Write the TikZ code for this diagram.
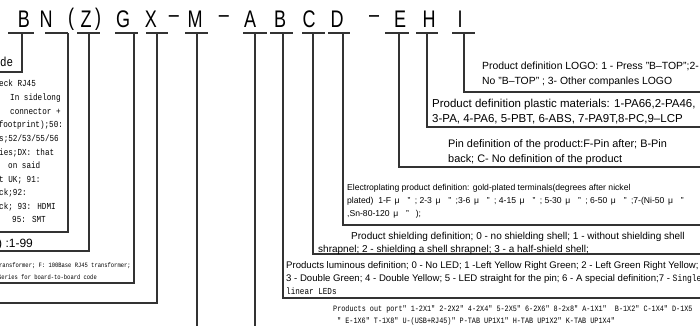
\documentclass[tikz,border=0pt]{standalone}
\usepackage{fontspec}
\setmainfont{Liberation Sans}
\newfontfamily\monoF[FakeStretch=0.83]{Liberation Mono}
\newfontfamily\narrowF[FakeStretch=0.75]{Liberation Sans}
\newcommand\mq{\makebox[1.4em]{μ}\makebox[1.35em]{"}}
\begin{document}
\begin{tikzpicture}[x=1pt,y=-1pt,
  ln/.style={draw=black!80, line width=1.2pt},
  code/.style={font=\narrowF\fontsize{24}{24}\selectfont, inner sep=0pt},
  txt/.style={inner sep=0pt, anchor=base west},
  szI/.style={txt, font=\fontsize{10.4}{15}\selectfont},
  szH/.style={txt, font=\fontsize{11.5}{15}\selectfont},
  szE/.style={txt, font=\fontsize{10.9}{15}\selectfont},
  szD/.style={txt, font=\fontsize{8.6}{13}\selectfont},
  szC/.style={txt, font=\fontsize{10}{13}\selectfont},
  szB/.style={txt, font=\fontsize{9.6}{13}\selectfont},
  port/.style={txt, font=\monoF\fontsize{8.2}{12}\selectfont},
  ser/.style={txt, font=\monoF\fontsize{9.2}{13}\selectfont},
  sers/.style={txt, font=\monoF\fontsize{6.6}{12}\selectfont},
]
\useasboundingbox (0,0) rectangle (700,325);
\clip (0,0) rectangle (700,325);
% code letters
\node[code] (k1) at (24,19) {B};
\node[code] (k2) at (46,19) {N};
\node[code] (k3a) at (71,19) {(};
\node[code] (k3) at (86,19) {Z};
\node[code] (k3b) at (98,19) {)};
\node[code] (k4) at (123,19) {G};
\node[code] (k5) at (151,19) {X};
\node[code] (k6) at (174,19) {–};
\node[code] (k7) at (195,19) {M};
\node[code] (k8) at (224,19) {–};
\node[code] (k9) at (250,19) {A};
\node[code] (k10) at (280,19) {B};
\node[code] (k11) at (309,19) {C};
\node[code] (k12) at (337,19) {D};
\node[code] (k13) at (374,19) {–};
\node[code] (k14) at (400,19) {E};
\node[code] (k15) at (429,19) {H};
\node[code] (k16) at (460,19) {I};
% bars
\draw[ln] (8,33) -- (34,33);
\draw[ln] (45,33) -- (68,33);
\draw[ln] (77,33) -- (100,33);
\draw[ln] (115,33) -- (138,33);
\draw[ln] (146,33) -- (168,33);
\draw[ln] (185,33) -- (208,33);
\draw[ln] (243,33) -- (267,33);
\draw[ln] (270,33) -- (293,33);
\draw[ln] (302,33) -- (325,33);
\draw[ln] (328,33) -- (350,33);
\draw[ln] (385,33) -- (409,33);
\draw[ln] (416,33) -- (438,33);
\draw[ln] (452,33) -- (475,33);
% stems
\coordinate (s1) at (22,33);  \coordinate (c1) at (0,72);
\coordinate (s2) at (68,33);  \coordinate (c2) at (0,232);
\coordinate (s3) at (89,33);  \coordinate (c3) at (0,251);
\coordinate (s4) at (134,33); \coordinate (c4) at (0,283);
\coordinate (s5) at (157,33); \coordinate (c5) at (0,303);
\coordinate (s6) at (197,33); \coordinate (c6) at (197,326);
\coordinate (s7) at (255,33); \coordinate (c7) at (255,326);
\coordinate (s8) at (283,33); \coordinate (c8) at (701,298);
\coordinate (s9) at (313,33); \coordinate (c9) at (701,254);
\coordinate (s10) at (343,33); \coordinate (c10) at (701,225);
\coordinate (s11) at (399,33); \coordinate (c11) at (701,167);
\coordinate (s12) at (427,33); \coordinate (c12) at (701,127);
\coordinate (s13) at (464,33); \coordinate (c13) at (701,92);
\foreach \i in {1,2,3,4,5,8,9,10,11,12,13} {\draw[ln] (s\i) |- (c\i);}
\draw[ln] (s6) -- (c6);
\draw[ln] (s7) -- (c7);
% right texts
\node[szI] (tI1) at (482,69) {Product definition LOGO: 1 - Press "B–TOP";2-};
\node[szI] (tI2) at (482,84) {No "B–TOP" ; 3- Other companles LOGO};
\node[szH] (tH1) at (432,107) {Product definition plastic materials: 1-PA66,2-PA46,};
\node[szH] (tH2) at (432,122) {3-PA, 4-PA6, 5-PBT, 6-ABS, 7-PA9T,8-PC,9–LCP};
\node[szE] (tE1) at (448,147) {Pin definition of the product:F-Pin after; B-Pin};
\node[szE] (tE2) at (448,162) {back; C- No definition of the product};
\node[szD] (tD1) at (347,190) {Electroplating product definition: gold-plated terminals(degrees after nickel};
\node[szD] (tD2) at (347,203) {plated)\ \ 1-F\mq ; 2-3\mq ;3-6\mq ; 4-15\mq ; 5-30\mq ; 6-50\mq ;7-(Ni-50\mq};
\node[szD] (tD3) at (347,216) {,Sn-80-120\mq\ );};
\node[szC] (tC1) at (351,239) {Product shielding definition; 0 - no shielding shell; 1 - without shielding shell};
\node[szC] (tC2) at (318,252) {shrapnel; 2 - shielding a shell shrapnel; 3 - a half-shield shell;};
\node[szB] (tB1) at (286,268) {Products luminous definition; 0 - No LED; 1 -Left Yellow Right Green; 2 - Left Green Right Yellow;};
\node[szB] (tB2) at (286,281) {3 - Double Green; 4 - Double Yellow; 5 - LED straight for the pin; 6 - A special definition;7 - {\monoF Single}};
\node[ser] (tB3) at (286,294) {linear LEDs};
\node[port] (tA1) at (333,311) {Products out port" 1-2X1" 2-2X2" 4-2X4" 5-2X5" 6-2X6" 8-2x8" A-1X1"\ \ B-1X2" C-1X4" D-1X5};
\node[port] (tA2) at (337,323) {" E-1X6" T-1X8" U-(USB+RJ45)" P-TAB UP1X1" H-TAB UP1X2" K-TAB UP1X4"};
% left texts
\node[txt, font=\monoF\fontsize{13}{13}\selectfont] (tL0) at (0,66) {de};
\node[ser] (tL1) at (-1,86) {eck RJ45};
\node[ser] (tL2) at (10,100) {In sidelong};
\node[ser] (tL3) at (10,114) {connector +};
\node[ser] (tL4) at (-6,127) {(footprint);50:};
\node[ser] (tL5) at (-1,141) {s;52/53/55/56};
\node[ser] (tL6) at (-1,155) {ies;DX: that};
\node[ser] (tL7) at (8,168) {on said};
\node[ser] (tL8) at (-1,182) {t UK; 91:};
\node[ser] (tL9) at (-1,195) {ck;92:};
\node[ser] (tL10) at (-1,209) {ck; 93: HDMI};
\node[ser] (tL11) at (12,222) {95: SMT};
\node[txt, font=\fontsize{12}{12}\selectfont] (tZ) at (-2,247) {) :1-99};
\node[sers] (tG1) at (-1,267) {ransformer; F: 100Base RJ45 transformer;};
\node[sers] (tG2) at (-2,279) {Series for board-to-board code};
\end{tikzpicture}
\end{document}
